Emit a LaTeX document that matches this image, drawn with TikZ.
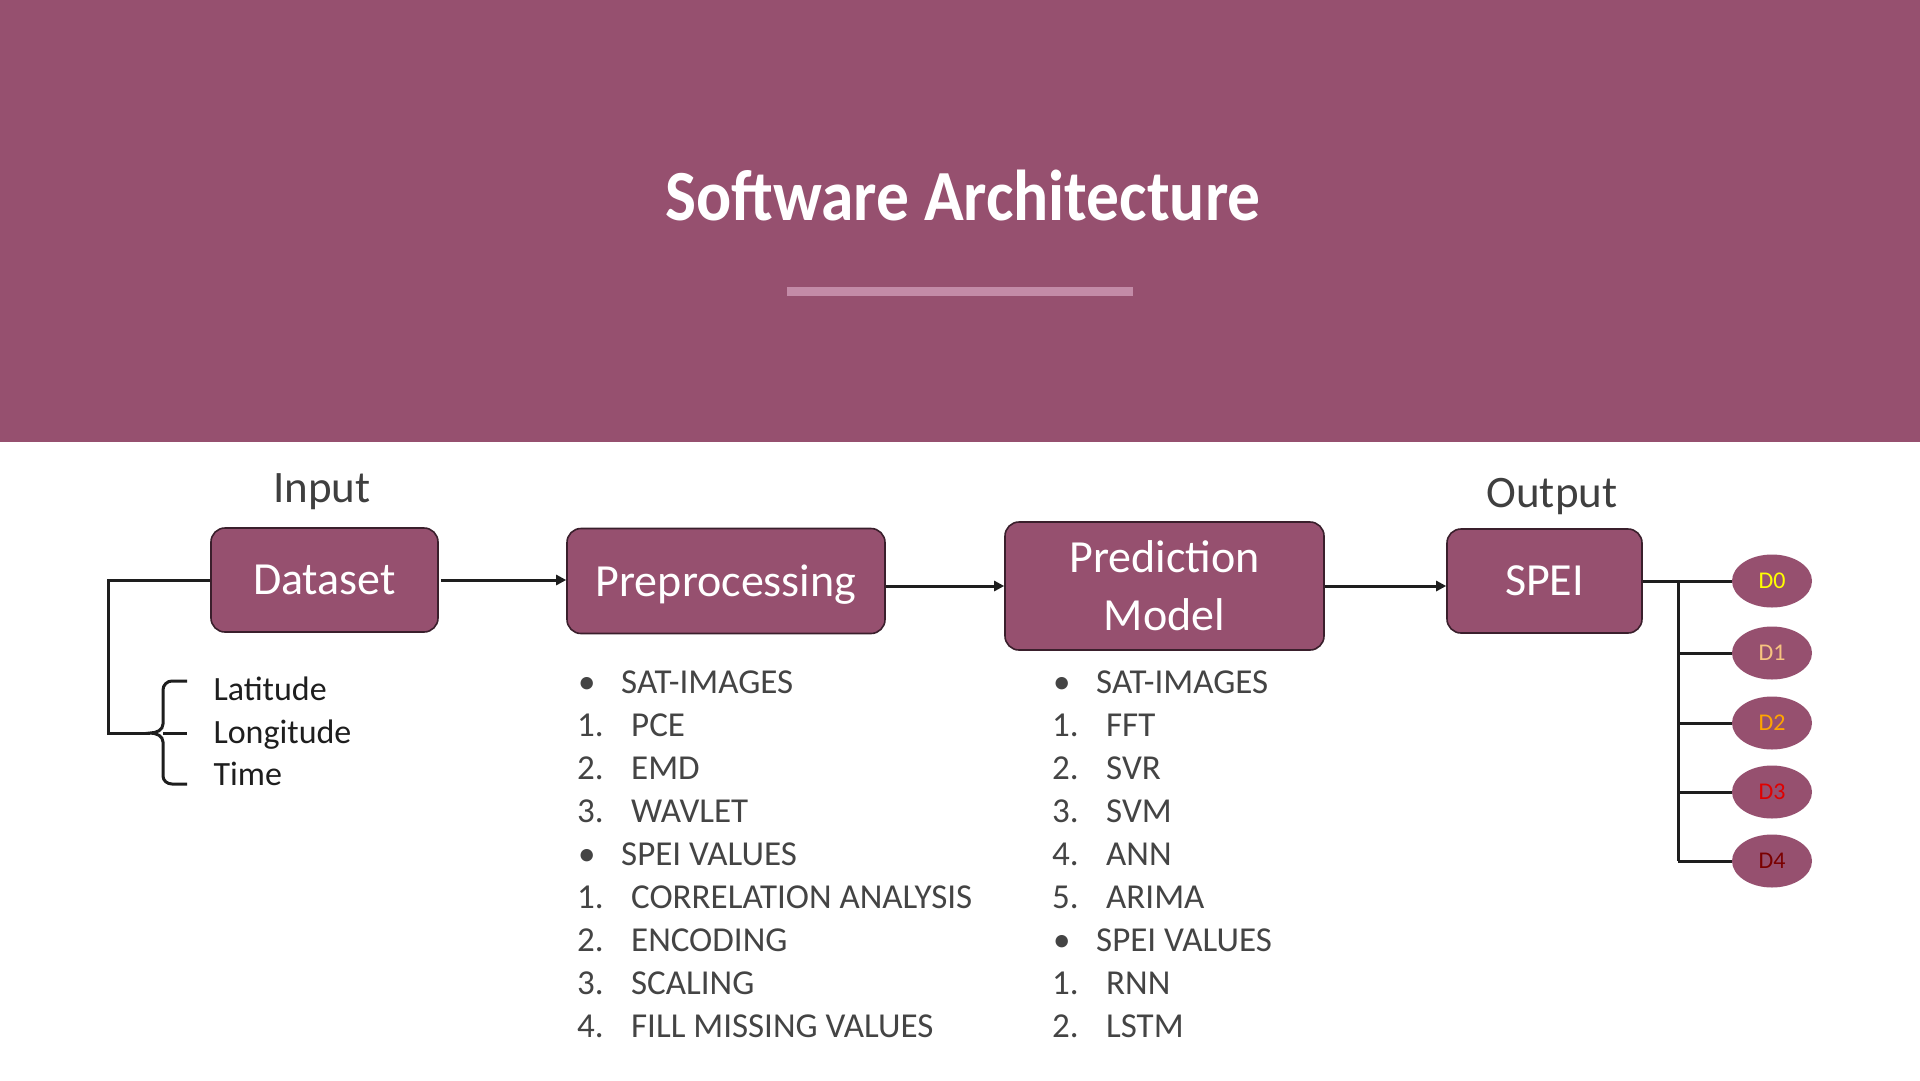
\documentclass[tikz,border=0pt]{standalone}
\usepackage{fontspec}
\setmainfont{Carlito}
\usetikzlibrary{arrows.meta,shapes.geometric}
\definecolor{plum}{HTML}{96506F}
\definecolor{plumbar}{HTML}{C38BA7}
\definecolor{edgeplum}{HTML}{3A1F2C}
\definecolor{ink}{HTML}{1E1E1E}
\definecolor{labelgray}{HTML}{3F3F3F}
\definecolor{listgray}{HTML}{444444}
\definecolor{dzero}{HTML}{FFFF00}
\definecolor{done}{HTML}{F7C47F}
\definecolor{dtwo}{HTML}{FFA500}
\definecolor{dthree}{HTML}{E00000}
\definecolor{dfour}{HTML}{7A0000}
\tikzset{
  stage/.style={draw=edgeplum, line width=1.6pt, fill=plum, rounded corners=14pt,
    text=white, font=\fontsize{46}{58}\selectfont, align=center, inner sep=0pt},
  flow/.style={draw=ink, line width=3pt, -{Triangle[length=10pt,width=10pt]}},
  wire/.style={draw=ink, line width=3pt},
  level/.style={ellipse, fill=plum, minimum width=80pt, minimum height=53pt,
    inner sep=0pt, font=\fontsize{24}{24}\selectfont},
  steplabel/.style={text=labelgray, font=\fontsize{45}{45}\selectfont, anchor=base},
  coord/.style={text=ink, font=\fontsize{34}{34}\selectfont, anchor=base west},
  item/.style={text=listgray, font=\fontsize{35}{35}\selectfont, anchor=base west, inner sep=0pt},
}
\newcommand{\bul}[1]{\makebox[44pt][l]{\hspace{1pt}\textbullet}#1}
\newcommand{\num}[2]{\makebox[54pt][l]{#1.}#2}
\begin{document}
\begin{tikzpicture}[x=1pt,y=-1pt]
\useasboundingbox (0,0) rectangle (1920,1080);
\fill[white] (0,0) rectangle (1920,1080);
% header band
\fill[plum] (0,0) rectangle (1920,442);
\node[text=white, font=\fontsize{72}{72}\selectfont\bfseries, anchor=base, xscale=0.91] (title) at (963,220) {Software Architecture};
\fill[plumbar] (787,287) rectangle (1133,296);

% pipeline stages
\node[stage, minimum width=227pt, minimum height=104pt] (dataset) at (324.5,580) {Dataset};
\node[stage, minimum width=318pt, minimum height=105pt, text depth=0pt] (prep) at (726,581) {Preprocessing};
\node[stage, minimum width=319pt, minimum height=128pt] (pred) at (1164.5,586) {Prediction\\Model};
\node[stage, minimum width=195pt, minimum height=104pt] (spei) at (1544.5,581) {SPEI};

\node[steplabel] (inlabel) at (322,502) {Input};
\node[steplabel] (outlabel) at (1552,507) {Output};

\draw[flow] ([xshift=2pt]dataset.east) -- (dataset.east -| prep.west);
\draw[flow] (prep.east |- pred.west) -- (pred.west);
\draw[flow] (pred.east) -- (pred.east -| spei.west);

% dataset attributes with brace
\node[coord] (lat) at (210,700) {Latitude};
\node[coord] (lon) at (210,743) {Longitude};
\node[coord] (time) at (210,785) {Time};
\coordinate (cusp) at (150,733);
\coordinate (corner) at (108,733);
\draw[wire] (dataset.west) -| (corner) -- (cusp);
\draw[wire] (187,681) -- (172,681) to[out=180,in=90] (163,690) -- (163,724)
  to[out=-90,in=0] (cusp) to[out=0,in=90] (163,742) -- (163,776)
  to[out=-90,in=180] (172,784) -- (187,784);
\draw[wire] (163,733) -- (187,733);

% output drought levels
\node[level, text=dzero] (d0) at (1772,581) {D0};
\node[level, text=done] (d1) at (1772,653) {D1};
\node[level, text=dtwo] (d2) at (1772,723) {D2};
\node[level, text=dthree] (d3) at (1772,792) {D3};
\node[level, text=dfour] (d4) at (1772,861) {D4};
\coordinate (trunk) at (1678,581);
\draw[wire] (spei.east) -- (d0.west);
\draw[wire] (trunk) -- (trunk |- d4);
\foreach \d in {d1,d2,d3,d4} \draw[wire] (trunk |- \d) -- (\d.west);

% preprocessing steps
\node[item] (p1) at (577,693) {\bul{SAT-IMAGES}};
\node[item] (p2) at (577,736.1) {\num{1}{PCE}};
\node[item] (p3) at (577,779.2) {\num{2}{EMD}};
\node[item] (p4) at (577,822.3) {\num{3}{WAVLET}};
\node[item] (p5) at (577,865.4) {\bul{SPEI VALUES}};
\node[item] (p6) at (577,908.5) {\num{1}{CORRELATION ANALYSIS}};
\node[item] (p7) at (577,951.6) {\num{2}{ENCODING}};
\node[item] (p8) at (577,994.7) {\num{3}{SCALING}};
\node[item] (p9) at (577,1037.8) {\num{4}{FILL MISSING VALUES}};

% prediction models
\node[item] (m1) at (1052,693) {\bul{SAT-IMAGES}};
\node[item] (m2) at (1052,736.1) {\num{1}{FFT}};
\node[item] (m3) at (1052,779.2) {\num{2}{SVR}};
\node[item] (m4) at (1052,822.3) {\num{3}{SVM}};
\node[item] (m5) at (1052,865.4) {\num{4}{ANN}};
\node[item] (m6) at (1052,908.5) {\num{5}{ARIMA}};
\node[item] (m7) at (1052,951.6) {\bul{SPEI VALUES}};
\node[item] (m8) at (1052,994.7) {\num{1}{RNN}};
\node[item] (m9) at (1052,1037.8) {\num{2}{LSTM}};
\end{tikzpicture}
\end{document}
